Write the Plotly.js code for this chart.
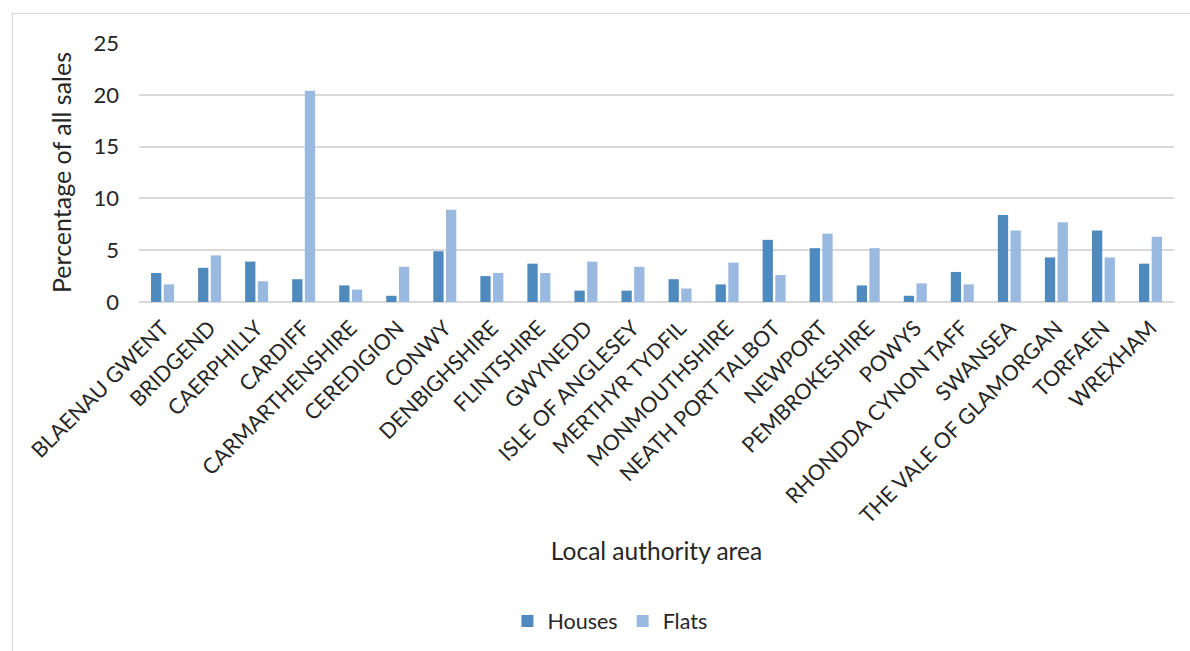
<!DOCTYPE html>
<html>
<head>
<meta charset="utf-8">
<script src="https://cdn.plot.ly/plotly-3.0.1.min.js"></script>
<style>
  html, body { margin: 0; padding: 0; background: #ffffff; overflow: hidden; }
  #chart { width: 1190px; height: 651px; }
  #frame {
    position: absolute; left: 12px; top: 13px; width: 1200px; height: 700px;
    border: 1px solid #d9d9d9; pointer-events: none;
  }
</style>
</head>
<body>
<div id="chart"></div>
<div id="frame"></div>
<script>
// Local authority areas in Wales
const areas = [
  "BLAENAU GWENT", "BRIDGEND", "CAERPHILLY", "CARDIFF", "CARMARTHENSHIRE",
  "CEREDIGION", "CONWY", "DENBIGHSHIRE", "FLINTSHIRE", "GWYNEDD",
  "ISLE OF ANGLESEY", "MERTHYR TYDFIL", "MONMOUTHSHIRE", "NEATH PORT TALBOT",
  "NEWPORT", "PEMBROKESHIRE", "POWYS", "RHONDDA CYNON TAFF", "SWANSEA",
  "THE VALE OF GLAMORGAN", "TORFAEN", "WREXHAM"
];

// Share of all sales (%) by property type
const houses = [2.8, 3.3, 3.9, 2.2, 1.6, 0.6, 4.9, 2.5, 3.7, 1.1, 1.1, 2.2,
                1.7, 6.0, 5.2, 1.6, 0.6, 2.9, 8.4, 4.3, 6.9, 3.7];
const flats  = [1.7, 4.5, 2.0, 20.4, 1.2, 3.4, 8.9, 2.8, 2.8, 3.9, 3.4, 1.3,
                3.8, 2.6, 6.6, 5.2, 1.8, 1.7, 6.9, 7.7, 4.3, 6.3];

const yTicks = [0, 5, 10, 15, 20, 25];

const fontFamily = "Lato, 'Open Sans', sans-serif";
const textColor = "#262626";

const traces = [
  { type: "bar", name: "Houses", x: areas, y: houses,
    marker: { color: "#4F8ABE" }, hoverinfo: "x+y" },
  { type: "bar", name: "Flats", x: areas, y: flats,
    marker: { color: "#99B9E0" }, hoverinfo: "x+y" }
];

const layout = {
  width: 1190, height: 651,
  margin: { l: 139, r: 16, t: 43, b: 348 },
  paper_bgcolor: "#ffffff", plot_bgcolor: "#ffffff",
  barmode: "group", bargap: 0.46, bargroupgap: 0.19,
  font: { family: fontFamily, color: textColor },
  showlegend: true,
  legend: {
    orientation: "h", x: 0.455, xanchor: "center", y: -1.223, yanchor: "middle",
    font: { size: 21.5, color: textColor, family: fontFamily }, itemwidth: 30
  },
  xaxis: {
    type: "category", tickangle: -45, showgrid: false, showline: false,
    ticks: "outside", ticklen: 4, tickcolor: "rgba(0,0,0,0)",
    tickfont: { size: 21.5, color: textColor },
    title: { text: "Local authority area", font: { size: 24.5, color: textColor }, standoff: 15 },
    automargin: false
  },
  yaxis: {
    range: [0, 25], tickvals: yTicks, ticktext: yTicks.map(String),
    showgrid: true, gridcolor: "#d9d9d9", gridwidth: 2,
    zeroline: true, zerolinecolor: "#d9d9d9", zerolinewidth: 2,
    showline: false, ticks: "", ticklabelstandoff: 19,
    tickfont: { size: 22, color: textColor },
    title: { text: "Percentage of all sales", font: { size: 25, color: textColor }, standoff: 14 },
    automargin: false
  }
};

Plotly.newPlot("chart", traces, layout, { displayModeBar: false, staticPlot: true });
</script>
</body>
</html>
